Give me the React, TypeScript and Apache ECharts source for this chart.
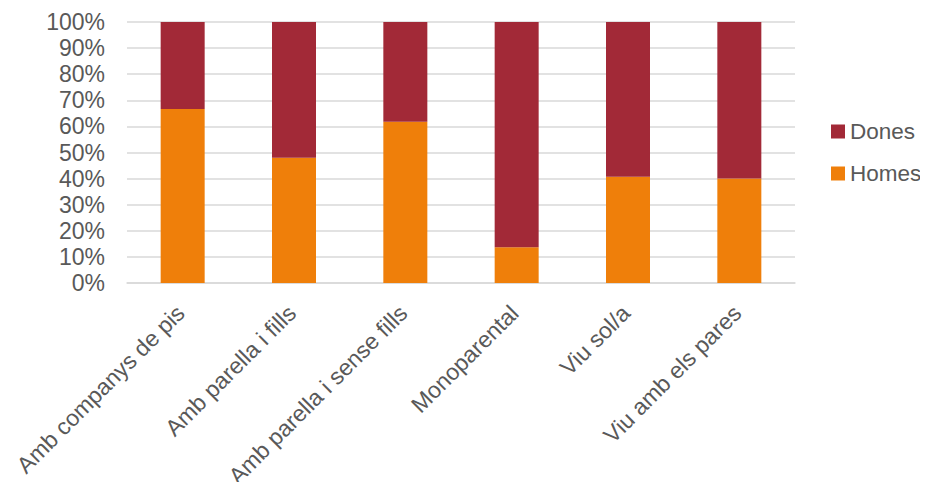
import React, { useEffect, useRef } from "react";
import * as echarts from "echarts";

const categories = [
  "Amb companys de pis",
  "Amb parella i fills",
  "Amb parella i sense fills",
  "Monoparental",
  "Viu sol/a",
  "Viu amb els pares",
];
const homes = [66.7, 48.0, 61.8, 13.7, 40.7, 40.0];
const dones = [33.3, 52.0, 38.2, 86.3, 59.3, 60.0];
const yTicks = [0, 10, 20, 30, 40, 50, 60, 70, 80, 90, 100];

export default function App() {
  const ref = useRef<HTMLDivElement>(null);
  useEffect(() => {
    if (!ref.current) return;
    const chart = echarts.init(ref.current, undefined, { renderer: "svg" });
    const font = "Liberation Sans, Arial, sans-serif";
    chart.setOption({
      animation: false,
      textStyle: { fontFamily: font },
      grid: {
        left: 127,
        right: 133,
        top: 22,
        bottom: 207,
        containLabel: false,
        outerBoundsMode: "none",
      },
      legend: {
        orient: "vertical",
        left: 826,
        top: 115,
        padding: [5, 0, 5, 5],
        data: ["Dones", "Homes"],
        itemWidth: 14,
        itemHeight: 14,
        itemGap: 19,
        icon: "rect",
        textStyle: { color: "#595959", fontSize: 22.5, fontFamily: font },
      },
      xAxis: {
        type: "category",
        data: categories,
        axisLine: { lineStyle: { color: "#D9D9D9", width: 1.5 } },
        axisTick: { show: false },
        axisLabel: {
          rotate: 45,
          color: "#595959",
          fontSize: 23,
          fontFamily: font,
          margin: 24,
          padding: [0, 3, 0, 0],
          interval: 0,
        },
      },
      yAxis: {
        type: "value",
        min: 0,
        max: 100,
        interval: 10,
        axisLine: { show: false },
        axisTick: { show: false },
        splitLine: { lineStyle: { color: "#D9D9D9", width: 1.5 } },
        axisLabel: {
          color: "#595959",
          fontSize: 23,
          fontFamily: font,
          margin: 22,
          formatter: (v: number) => (yTicks.includes(v) ? v + "%" : ""),
        },
      },
      series: [
        {
          name: "Homes",
          type: "bar",
          stack: "total",
          barWidth: 44,
          data: homes,
          itemStyle: { color: "#EF7F0A" },
        },
        {
          name: "Dones",
          type: "bar",
          stack: "total",
          barWidth: 44,
          data: dones,
          itemStyle: { color: "#A22937" },
        },
      ],
    });
    return () => chart.dispose();
  }, []);
  return <div ref={ref} style={{ width: 928, height: 490, margin: -8 }} />;
}
